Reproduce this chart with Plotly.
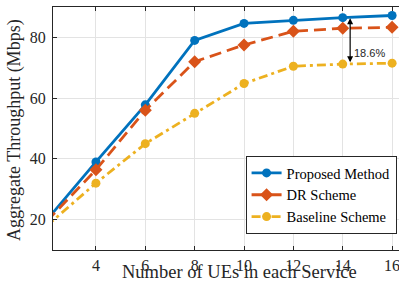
import plotly.graph_objects as go

ues = [2, 4, 6, 8, 10, 12, 14, 16]
proposed = [19.8, 39.0, 57.8, 79.0, 84.6, 85.6, 86.5, 87.2]
dr_scheme = [19.4, 36.4, 56.0, 72.0, 77.5, 82.0, 83.0, 83.3]
baseline = [17.9, 32.0, 45.0, 55.0, 64.8, 70.5, 71.2, 71.5]
x_ticks = [4, 6, 8, 10, 12, 14, 16]
y_ticks = [20, 40, 60, 80]

serif = "Liberation Serif, Times New Roman, serif"

fig = go.Figure()
fig.add_trace(go.Scatter(x=ues, y=proposed, name="Proposed Method", mode="lines+markers",
                         line=dict(color="#0072BD", width=2.8),
                         marker=dict(symbol="circle", size=9, color="#0072BD")))
fig.add_trace(go.Scatter(x=ues, y=dr_scheme, name="DR Scheme", mode="lines+markers",
                         line=dict(color="#D95319", width=2.8, dash="12px,6px"),
                         marker=dict(symbol="diamond", size=10, color="#D95319")))
fig.add_trace(go.Scatter(x=ues, y=baseline, name="Baseline Scheme", mode="lines+markers",
                         line=dict(color="#EDB120", width=2.8, dash="9px,4px,3px,4px"),
                         marker=dict(symbol="circle", size=9, color="#EDB120")))

# double-headed arrow for gain
fig.add_annotation(x=14.3, y=86.3, ax=14.3, ay=71.3, xref="x", yref="y", axref="x", ayref="y",
                   showarrow=True, arrowhead=2, arrowside="end+start", arrowwidth=1.2,
                   arrowsize=1, arrowcolor="black", text="")
fig.add_annotation(x=15.1, y=74.8, xref="x", yref="y", text="18.6%", showarrow=False,
                   font=dict(family="Liberation Sans, Arial", size=11, color="#262626"))

# last x tick label (partly cut off by the figure edge, as in the reference)
fig.add_annotation(x=x_ticks[-1], y=(250 - 265) / 243, xref="x", yref="paper",
                   xanchor="center", yanchor="middle", text=str(x_ticks[-1]), showarrow=False,
                   font=dict(family=serif, size=16, color="#262626"))

# axis titles as annotations
fig.add_annotation(x=(239 - 53) / 346, y=(250 - 272) / 243, xref="paper", yref="paper",
                   xanchor="center", yanchor="middle",
                   text="Number of UEs in each Service", showarrow=False,
                   font=dict(family=serif, size=18.5, color="#262626"))
fig.add_annotation(x=(14 - 53) / 346, y=(250 - 130) / 243, xref="paper", yref="paper",
                   xanchor="center", yanchor="middle",
                   text="Aggregate Throughput (Mbps)", showarrow=False, textangle=-90,
                   font=dict(family=serif, size=18, color="#262626"))

axis_common = dict(showgrid=True, gridcolor="#e3e3e3", gridwidth=1,
                   showline=True, linecolor="#262626", linewidth=1,
                   ticks="inside", ticklen=4, tickcolor="#262626",
                   tickfont=dict(family=serif, size=16, color="#262626"),
                   zeroline=False)

fig.update_xaxes(range=[2.26, 16.28], tickvals=x_ticks, mirror="allticks",
                 ticklabelstandoff=1, **axis_common)
fig.update_yaxes(range=[10, 90], tickvals=y_ticks, mirror=False,
                 ticklabelstandoff=3, **axis_common)

fig.update_layout(
    width=399, height=287,
    margin=dict(l=53, r=0, t=7, b=37),
    plot_bgcolor="white", paper_bgcolor="white",
    showlegend=True,
    legend=dict(x=0.993, y=0.387, xanchor="right", yanchor="top",
                bgcolor="white", bordercolor="#262626", borderwidth=1,
                font=dict(family=serif, size=14.5, color="#000000"),
                itemwidth=30, tracegroupgap=0),
)

fig.write_html("out.html", config={"displayModeBar": False},
               post_script="document.body.style.margin='0';document.body.style.padding='0';document.body.style.overflow='hidden';")
